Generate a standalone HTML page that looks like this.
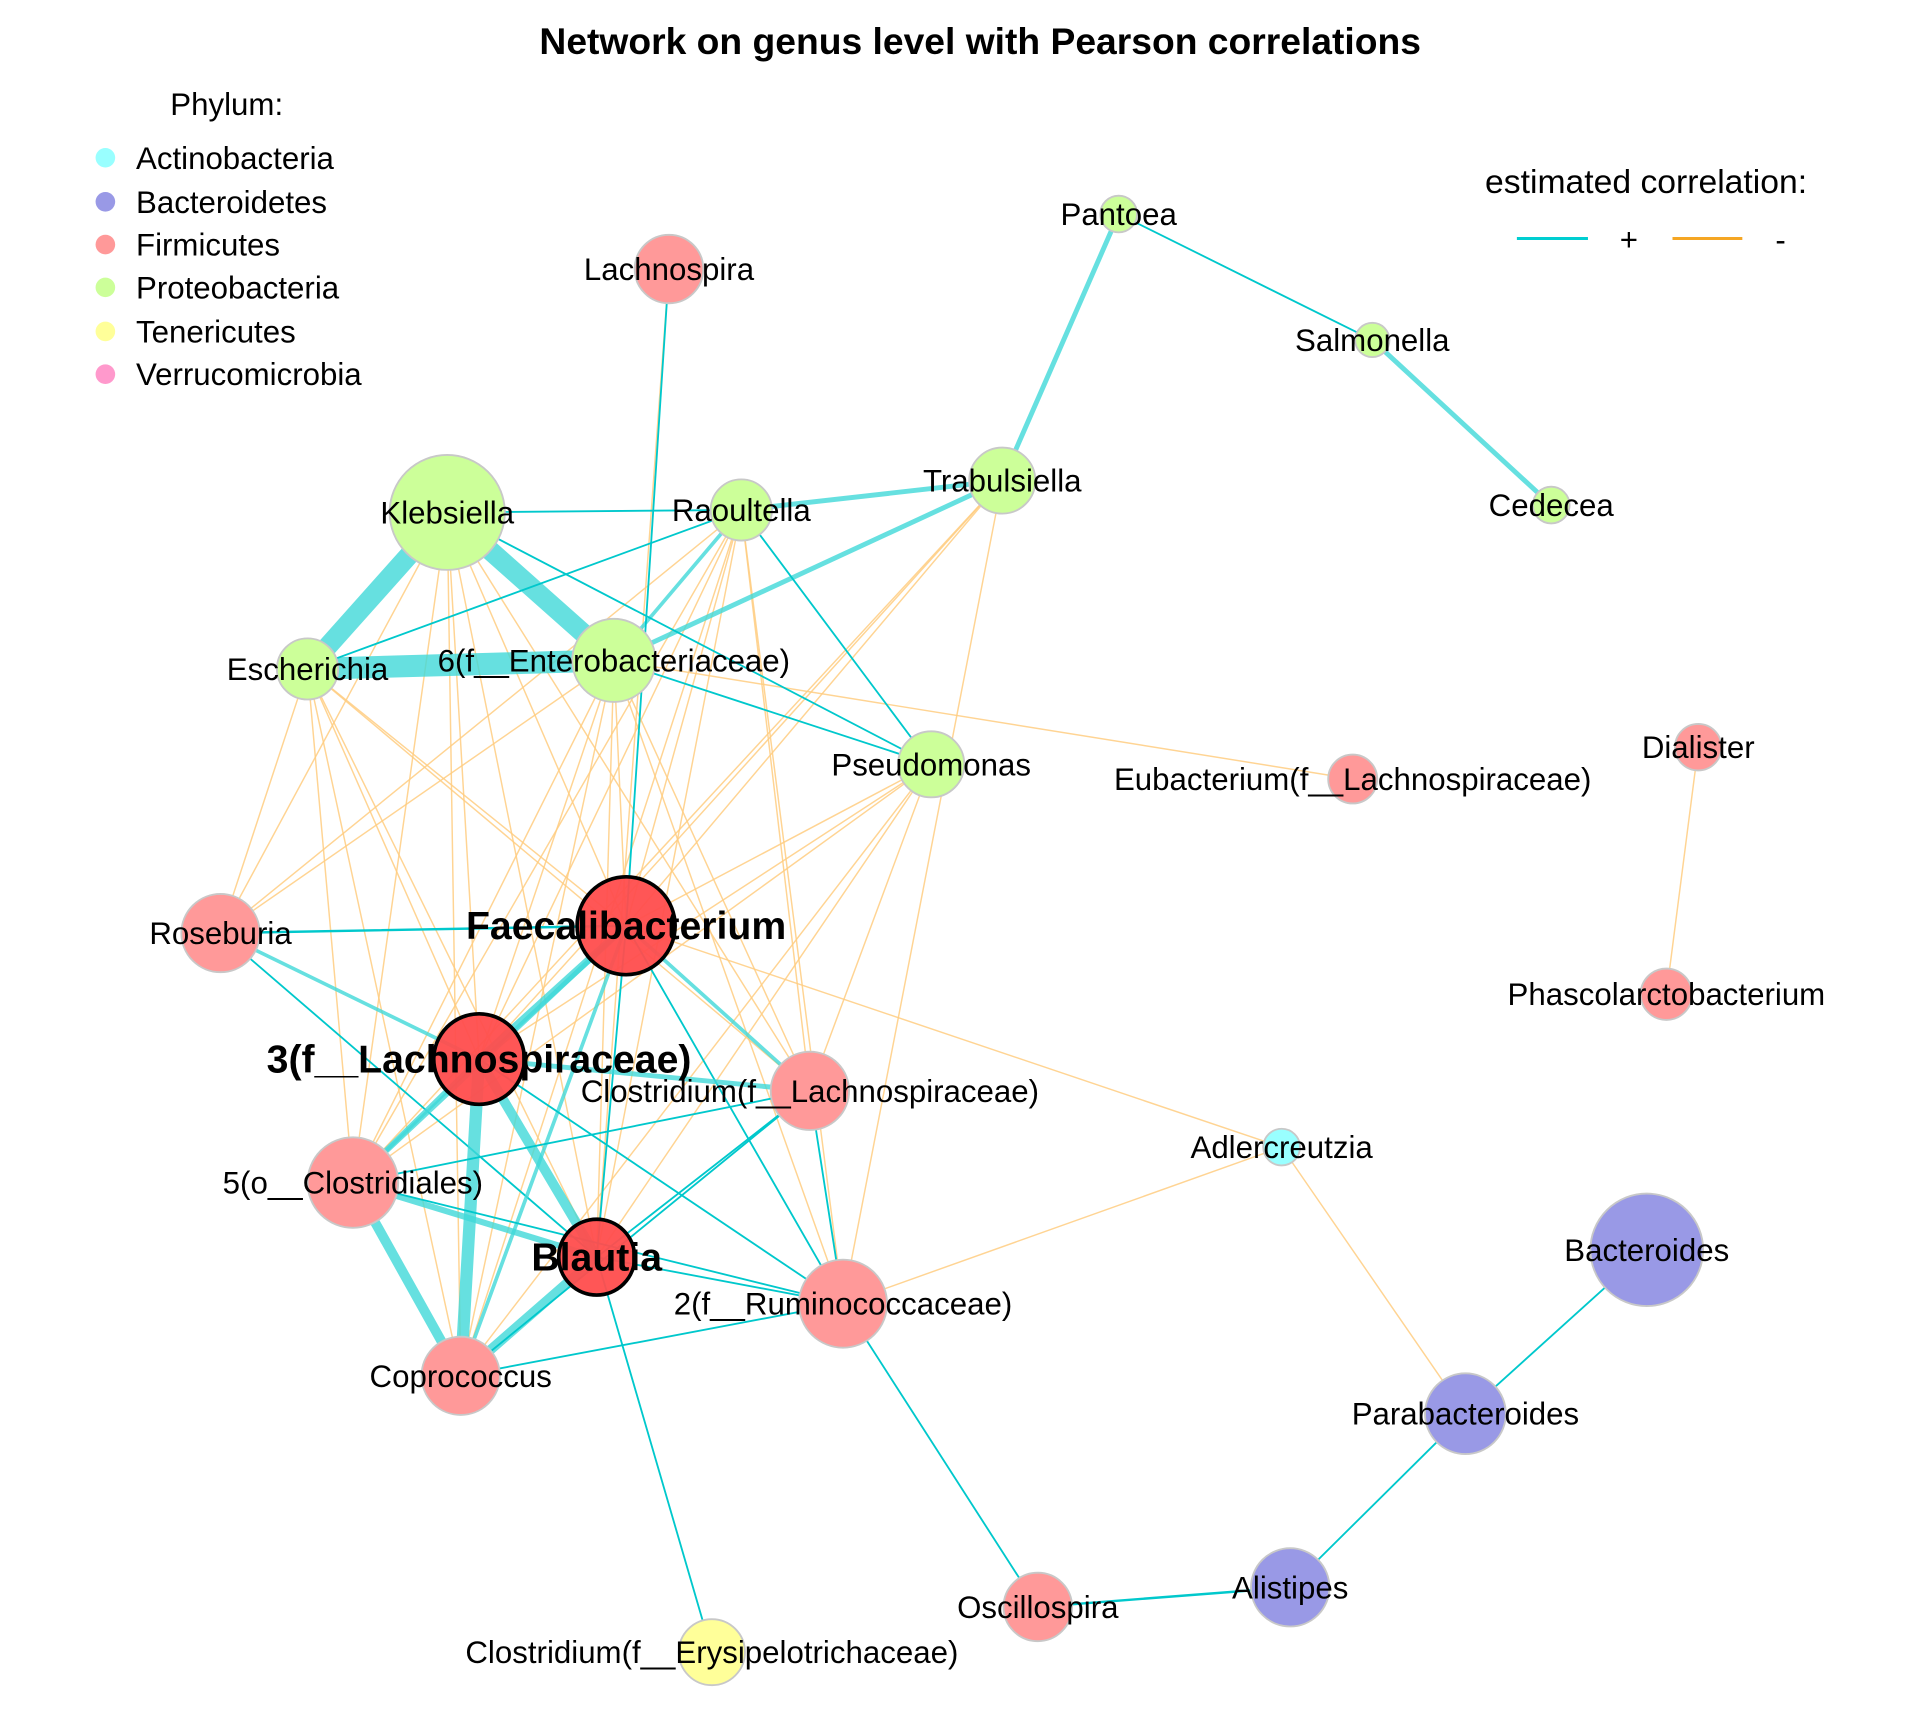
<!DOCTYPE html>
<html><head><meta charset="utf-8"><style>
html,body{margin:0;padding:0;background:#fff;}
svg{display:block;}
text{font-family:"Liberation Sans",Arial,sans-serif;fill:#000;}
</style></head><body>
<svg width="1920" height="1728" viewBox="0 0 1567 1413" preserveAspectRatio="none" xmlns="http://www.w3.org/2000/svg">
<rect width="1567" height="1413" fill="#fff"/>
<text x="800" y="44" font-size="30.4" font-weight="bold" text-anchor="middle">Network on genus level with Pearson correlations</text>
<text x="139" y="94" font-size="25.5">Phylum:</text>
<g font-size="25.5">
<circle cx="86" cy="129" r="8" fill="#99ffff"/><text x="111" y="138">Actinobacteria</text>
<circle cx="86" cy="165" r="8" fill="#9999e6"/><text x="111" y="174">Bacteroidetes</text>
<circle cx="86" cy="200" r="8" fill="#ff9999"/><text x="111" y="209">Firmicutes</text>
<circle cx="86" cy="235" r="8" fill="#ccff99"/><text x="111" y="244">Proteobacteria</text>
<circle cx="86" cy="271" r="8" fill="#ffff99"/><text x="111" y="280">Tenericutes</text>
<circle cx="86" cy="306" r="8" fill="#ff99cc"/><text x="111" y="315">Verrucomicrobia</text>
<text x="1212" y="158" font-size="27.5">estimated correlation:</text>
<line x1="1238" y1="195" x2="1296" y2="195" stroke="#00ced1" stroke-width="2.5"/>
<text x="1322" y="205">+</text>
<line x1="1365" y1="195" x2="1422" y2="195" stroke="#f5a623" stroke-width="2.5"/>
<text x="1449" y="205">-</text>
</g>
<g id="edges" stroke-linecap="round"></g>
<g id="nodes"></g>
<g id="labels"></g>
<script>
var N={
Pan:[913,175,15,'g','Pantoea'],Sal:[1120,278,14,'g','Salmonella'],Ced:[1266,413,15,'g','Cedecea'],
Lsp:[546,220,28,'f','Lachnospira'],Tra:[818,393,27,'g','Trabulsiella'],Rao:[605,417,25,'g','Raoultella'],
Kle:[365,419,47,'g','Klebsiella'],Esc:[251,547,25,'g','Escherichia'],Ent:[501,540,34,'g','6(f__Enterobacteriaceae)'],
Pse:[760,625,27,'g','Pseudomonas'],Eub:[1104,637,20,'f','Eubacterium(f__Lachnospiraceae)'],Dia:[1386,611,19,'f','Dialister'],
Pha:[1360,813,21,'f','Phascolarctobacterium'],Ros:[180,763,32,'f','Roseburia'],Fae:[511,757,40,'F','Faecalibacterium'],
L3:[391,866,37,'F','3(f__Lachnospiraceae)'],CL:[661,892,32,'f','Clostridium(f__Lachnospiraceae)'],Adl:[1046,938,15,'a','Adlercreutzia'],
C5:[288,967,37,'f','5(o__Clostridiales)'],Bla:[487,1028,31,'F','Blautia'],Rum:[688,1066,36,'f','2(f__Ruminococcaceae)'],
Bac:[1344,1022,46,'b','Bacteroides'],Par:[1196,1156,33,'b','Parabacteroides'],Cop:[376,1125,32,'f','Coprococcus'],
Osc:[847,1314,28,'f','Oscillospira'],Ali:[1053,1298,32,'b','Alistipes'],CE:[581,1351,27,'t','Clostridium(f__Erysipelotrichaceae)']};
var pos=[['Pan','Sal',1.5],['Pan','Tra',4],['Sal','Ced',4],['Tra','Rao',4],['Kle','Rao',1.5],['Kle','Esc',16],['Kle','Ent',16],['Esc','Ent',18],['Tra','Ent',4],['Rao','Ent',3],['Rao','Esc',1.5],['Rao','Pse',1.5],['Kle','Pse',1.5],['Ent','Pse',1.5],['Lsp','Fae',1.5],['Ros','Fae',2],['Ros','L3',3],['Ros','Bla',1.5],['Fae','L3',6],['Fae','C5',4],['Fae','Cop',3],['Fae','CL',3],['Fae','Rum',1.5],['Fae','Bla',1.5],['L3','CL',4],['L3','C5',4],['L3','Bla',8],['L3','Cop',10],['L3','Rum',1.5],['C5','Cop',8],['C5','Bla',5],['C5','Rum',1.5],['C5','CL',1.5],['Bla','Cop',8],['Bla','Rum',1.5],['Bla','CL',1.5],['Cop','CL',1.5],['Cop','Rum',1.5],['CL','Rum',1.5],['Bla','CE',1.5],['Rum','Osc',1.5],['Osc','Ali',2],['Ali','Par',1.5],['Par','Bac',1.5]];
var neg=[['Lsp','Bla'],['Dia','Pha'],['Ent','Eub'],['Fae','Adl'],['Adl','Rum'],['Adl','Par'],['Tra','Rum'],['Tra','L3'],['Tra','C5'],['Tra','Fae'],
['Kle','Ros'],['Kle','Fae'],['Kle','L3'],['Kle','C5'],['Kle','Bla'],['Kle','Cop'],['Kle','CL'],
['Esc','Ros'],['Esc','Fae'],['Esc','L3'],['Esc','C5'],['Esc','Bla'],['Esc','Cop'],['Esc','CL'],
['Ent','Ros'],['Ent','Fae'],['Ent','L3'],['Ent','C5'],['Ent','Bla'],['Ent','Cop'],['Ent','CL'],['Ent','Rum'],
['Rao','Ros'],['Rao','Fae'],['Rao','L3'],['Rao','C5'],['Rao','Bla'],['Rao','Cop'],['Rao','CL'],['Rao','Rum'],
['Pse','Fae'],['Pse','L3'],['Pse','C5'],['Pse','Bla'],['Pse','CL'],['Pse','Cop']];
var col={g:'#ccff99',f:'#ff9999',F:'#ff4d4d',a:'#99ffff',b:'#9999e6',t:'#ffff99'};
var ns='http://www.w3.org/2000/svg';
function el(t,a,p){var e=document.createElementNS(ns,t);for(var k in a)e.setAttribute(k,a[k]);document.getElementById(p).appendChild(e);return e;}
neg.forEach(function(e){var a=N[e[0]],b=N[e[1]];el('line',{x1:a[0],y1:a[1],x2:b[0],y2:b[1],stroke:'#ffcc80','stroke-width':1.2,'stroke-opacity':0.85},'edges');});
pos.forEach(function(e){var a=N[e[0]],b=N[e[1]];el('line',{x1:a[0],y1:a[1],x2:b[0],y2:b[1],stroke:e[2]>2?'#40d8d8':'#00c8cc','stroke-width':e[2],'stroke-opacity':e[2]>2?0.8:1},'edges');});
var big={Fae:1,L3:1,Bla:1};
for(var k in N){var n=N[k];
el('circle',{cx:n[0],cy:n[1],r:n[2],fill:col[n[3]],'fill-opacity':big[k]?0.95:1,stroke:big[k]?'#000':'#c8c8c8','stroke-width':big[k]?3:1.5},'nodes');
var t=el('text',{x:n[0],y:n[1]+(big[k]?11:9),'text-anchor':'middle','font-size':big[k]?32:25.5,'font-weight':big[k]?'bold':'normal'},'labels');t.textContent=n[4];}
</script>
</svg>
</body></html>
